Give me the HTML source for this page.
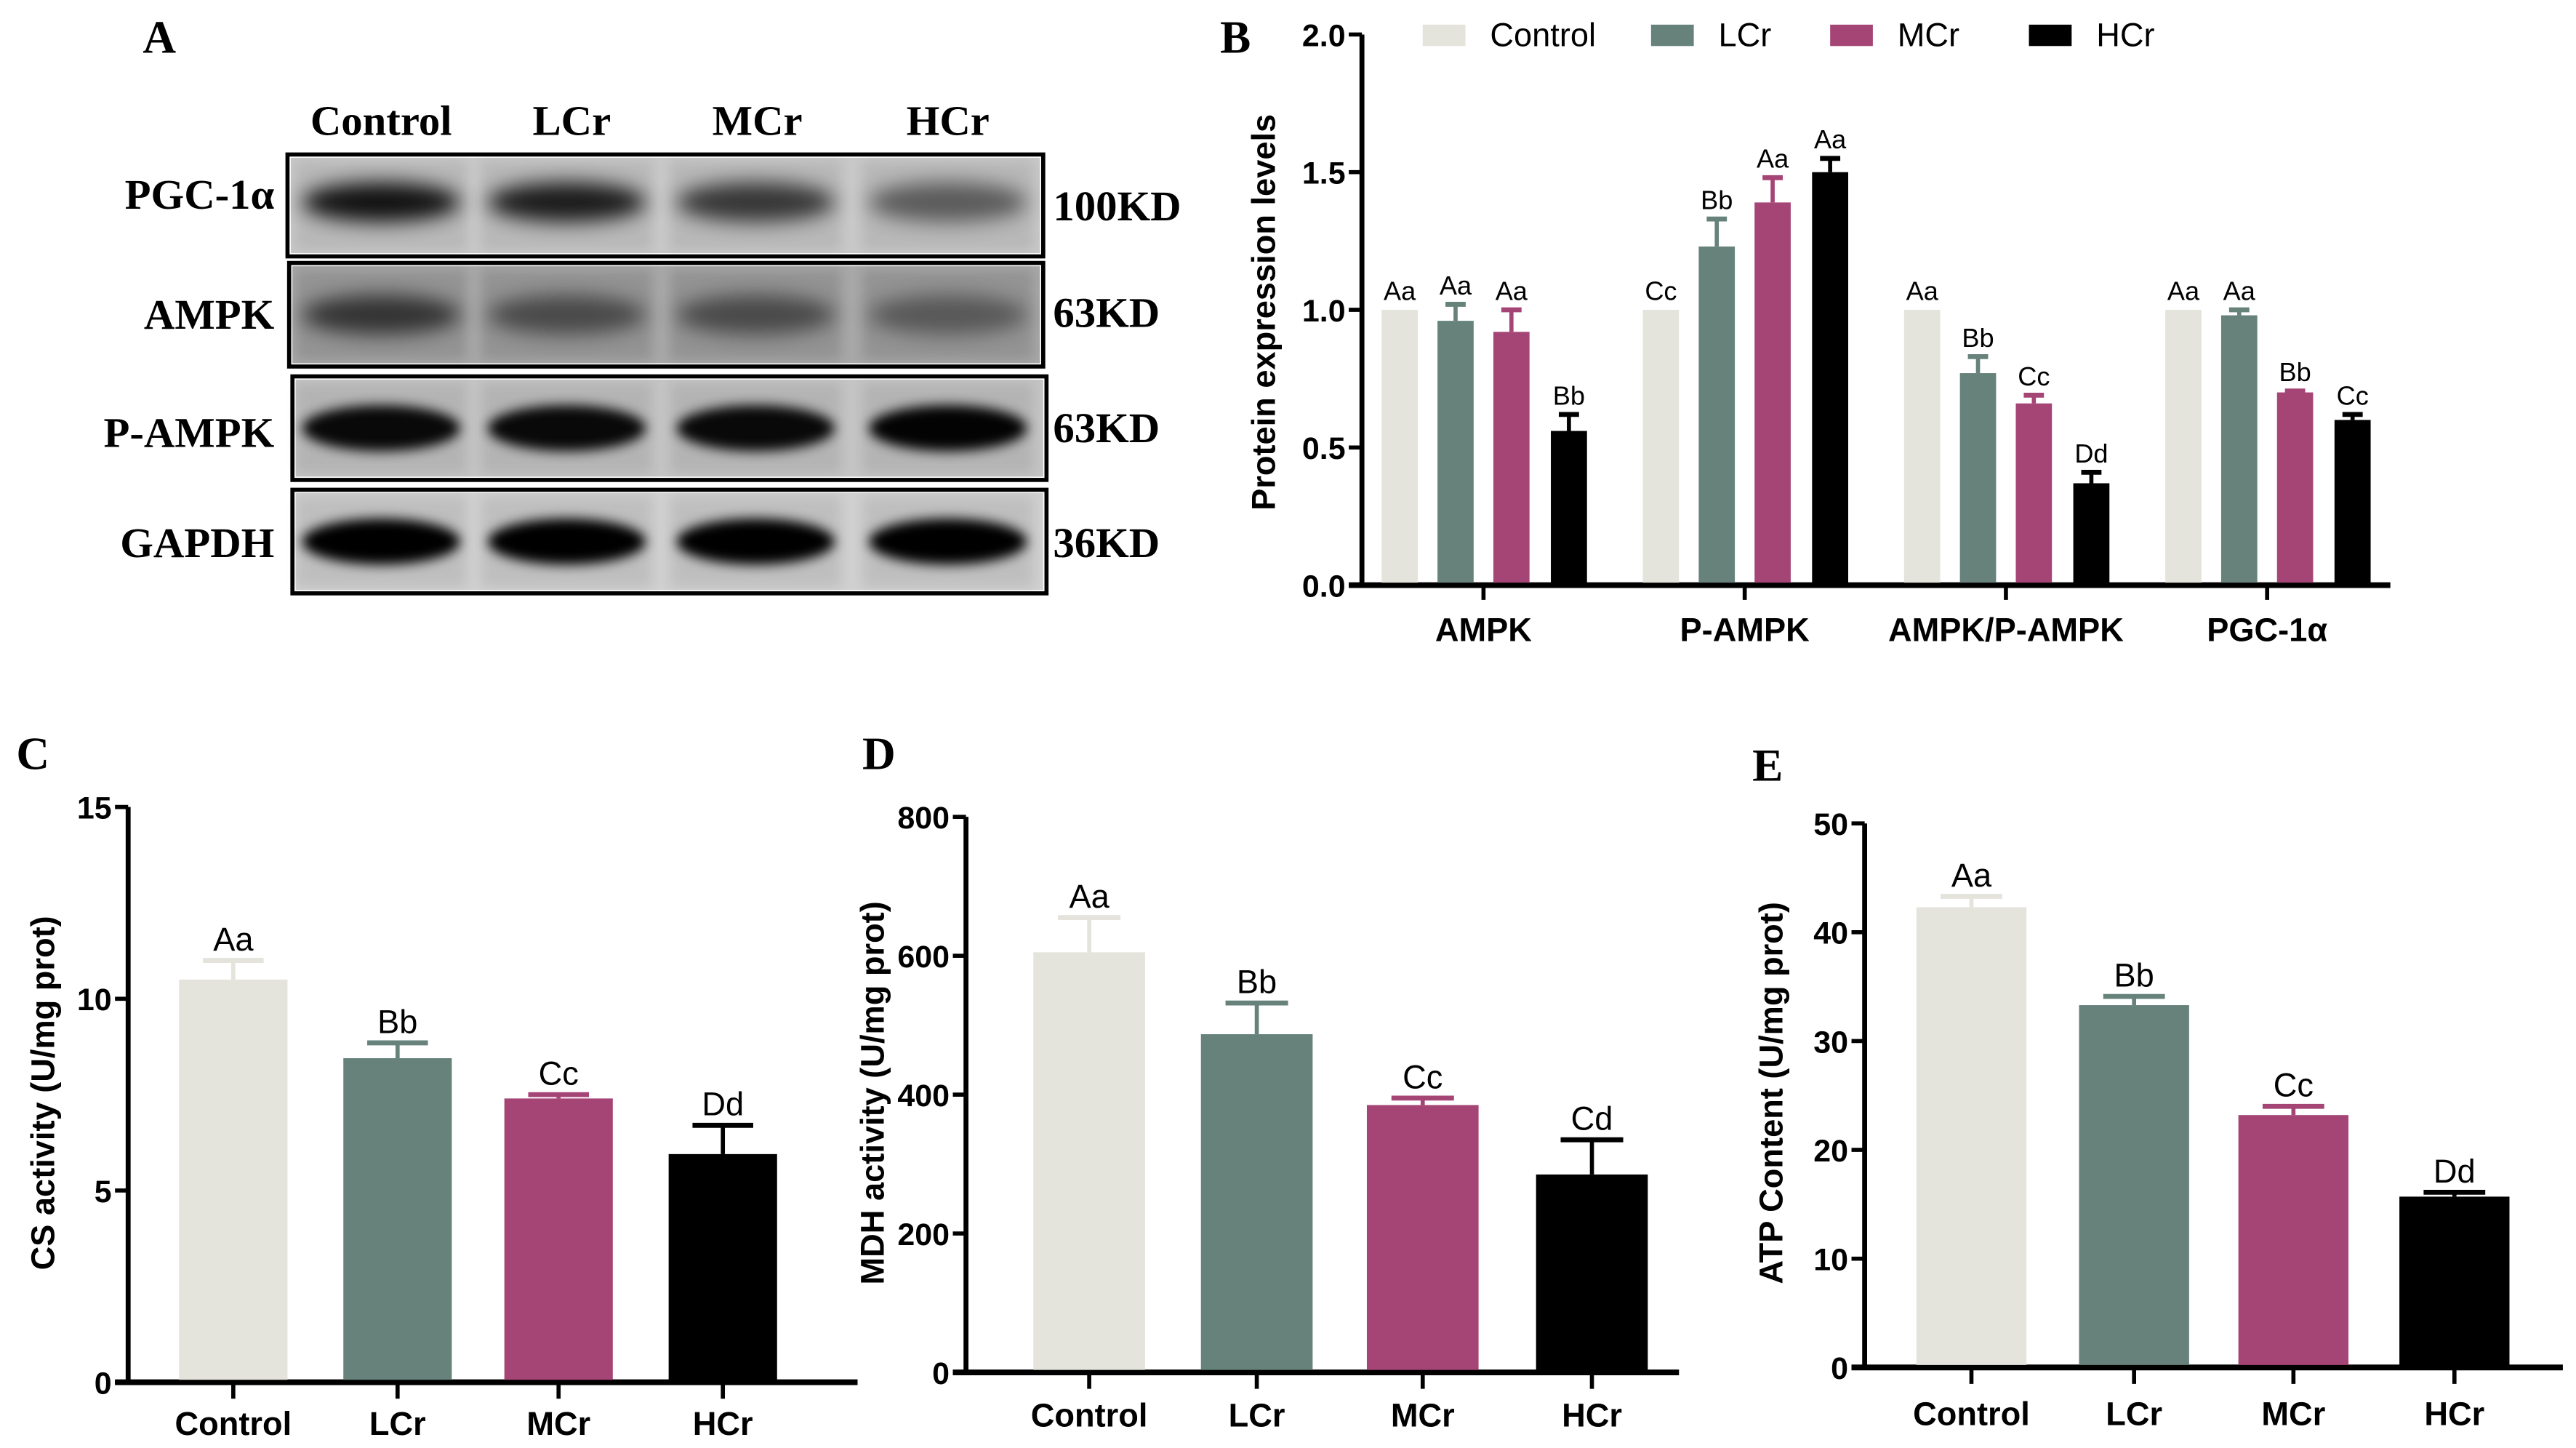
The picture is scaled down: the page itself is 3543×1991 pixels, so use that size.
<!DOCTYPE html>
<html><head><meta charset="utf-8">
<style>
html,body{margin:0;padding:0;background:#fff;}
svg{display:block;}
text{font-family:"Liberation Sans",sans-serif;}
.serif{font-family:"Liberation Serif",serif;font-weight:bold;}
</style></head>
<body>
<svg id="fig" width="3543" height="1991" viewBox="0 0 1568 881" preserveAspectRatio="none" xmlns="http://www.w3.org/2000/svg">
<defs>
<filter id="blur3" x="-20%" y="-60%" width="140%" height="220%"><feGaussianBlur stdDeviation="6"/></filter>
<filter id="blur2" x="-20%" y="-60%" width="140%" height="220%"><feGaussianBlur stdDeviation="3.5"/></filter>
</defs>
<g id="panelA">
<text class="serif" x="97" y="32" font-size="28" text-anchor="middle">A</text>
<text class="serif" x="232" y="82" font-size="26" text-anchor="middle">Control</text>
<text class="serif" x="348" y="82" font-size="26" text-anchor="middle">LCr</text>
<text class="serif" x="461" y="82" font-size="26" text-anchor="middle">MCr</text>
<text class="serif" x="577" y="82" font-size="26" text-anchor="middle">HCr</text>
</g>
<g id="panelB"></g>
<g id="panelC"></g>
<g id="panelD"></g>
<g id="panelE"></g>
</svg>
<script>
// ---- data ----
const groups = ["Control","LCr","MCr","HCr"];
const colors = ["#e4e3dc","#66827a","#a54576","#000000"];
const bCategories = ["AMPK","P-AMPK","AMPK/P-AMPK","PGC-1α"];
const bControl = [1.00,1.00,1.00,1.00];
const bLCr = [0.96,1.23,0.77,0.98];
const bMCr = [0.92,1.39,0.66,0.70];
const bHCr = [0.56,1.50,0.37,0.60];
const bErrControl = [0,0,0,0];
const bErrLCr = [0.06,0.10,0.06,0.02];
const bErrMCr = [0.08,0.09,0.03,0.005];
const bErrHCr = [0.06,0.05,0.04,0.02];
const bSigControl = ["Aa","Cc","Aa","Aa"];
const bSigLCr = ["Aa","Bb","Bb","Aa"];
const bSigMCr = ["Aa","Aa","Cc","Bb"];
const bSigHCr = ["Bb","Aa","Dd","Cc"];
const bTicks = ["0.0","0.5","1.0","1.5","2.0"];
const cValues = [10.5,8.45,7.4,5.95];
const cErr = [0.5,0.4,0.1,0.75];
const cSig = ["Aa","Bb","Cc","Dd"];
const cTicks = ["0","5","10","15"];
const dValues = [605,487,385,285];
const dErr = [50,45,10,50];
const dSig = ["Aa","Bb","Cc","Cd"];
const dTicks = ["0","200","400","600","800"];
const eValues = [42.3,33.3,23.2,15.7];
const eErr = [1.0,0.8,0.8,0.4];
const eSig = ["Aa","Bb","Cc","Dd"];
const eTicks = ["0","10","20","30","40","50"];
const blotRows = ["PGC-1α","AMPK","P-AMPK","GAPDH"];
const blotKD = ["100KD","63KD","63KD","36KD"];
const blotIntensity = [
  [0.9,0.85,0.7,0.5],
  [0.65,0.5,0.5,0.4],
  [0.95,0.95,0.95,0.98],
  [1,1,1,1]
];

const NS = "http://www.w3.org/2000/svg";
function mk(parent, tag, attrs, txt){
  const e = document.createElementNS(NS, tag);
  for (const k in attrs) e.setAttribute(k, attrs[k]);
  if (txt !== undefined) e.textContent = txt;
  parent.appendChild(e);
  return e;
}

// ---- Panel A blots ----
(function(){
  const g = document.getElementById('panelA');
  const boxes = [[175,94,460,62],[176,160,459,63],[178,229,459,63],[178,298,459,63]];
  const labelY = [127,200,272,339];
  const kdY = [134,199,269,339];
  const laneX = [232,345,460,577];
  const bgCol = ['#c8c8c8','#a8a8a8','#c4c4c4','#d0d0d0'];
  blotRows.forEach((name,i)=>{
    const [x,y,w,h] = boxes[i];
    const bg = mk(g,'rect',{x:x+2,y:y+2,width:w-4,height:h-4,fill:bgCol[i]});
    
    
    laneX.forEach((lx,j)=>{
      const v = blotIntensity[i][j];
      const lane = mk(g,'rect',{x:lx-52,y:y+4,width:104,height:h-8,fill:'#000',opacity:i===1?0.12:0.08,filter:'url(#blur2)'});
      
      
      const band = mk(g,'ellipse',{cx:lx,cy:y+h/2+(i===0?-2:0),rx:48,ry:i>=2?14:12,fill:'#000',opacity:v,filter:i>=2?'url(#blur2)':'url(#blur3)'});
      
      
    });
    const frame = mk(g,'rect',{x:x,y:y,width:w,height:h,fill:'none',stroke:'#000','stroke-width':2.5});
    
    
    const lab = mk(g,'text',{class:'serif',x:167,y:labelY[i],'font-size':26,'text-anchor':'end'},name);
    
    
    const kd = mk(g,'text',{class:'serif',x:641,y:kdY[i],'font-size':26},blotKD[i]);
    
    
  });
})();

// ---- generic bar chart ----
function drawAxisY(g, o){
  const yAxis = mk(g,'line',{x1:o.x0,y1:o.y0+1.5,x2:o.x0,y2:o.yTop,stroke:'#000','stroke-width':3});
  
  
  const xAxis = mk(g,'line',{x1:o.x0-8,y1:o.y0,x2:o.x1,y2:o.y0,stroke:'#000','stroke-width':3.5});
  
  
  o.ticks.forEach(t=>{
    const y = o.ys(parseFloat(t));
    const tk = mk(g,'line',{x1:o.x0-8,y1:y,x2:o.x0,y2:y,stroke:'#000','stroke-width':2.5});
    
    
    const tl = mk(g,'text',{x:o.x0-10,y:y+7,'font-size':19,'font-weight':'bold','text-anchor':'end'},t);
    
    
  });
  const tt = mk(g,'text',{x:0,y:0,'font-size':o.titleSize||20,'font-weight':'bold','text-anchor':'middle',transform:`translate(${o.titleX},${o.titleY}) rotate(-90)`},o.title);
  
  
}
function drawBar(g, cx, w, v, err, sig, color, ys, y0, fs){
  const top = ys(v);
  const bar = mk(g,'rect',{x:cx-w/2,y:top,width:w,height:y0-top,fill:color});
  
  
  const et = ys(v+err);
  if (err>0){
    const el = mk(g,'line',{x1:cx,y1:top,x2:cx,y2:et,stroke:color,'stroke-width':2.5});
    
    
    const cap = mk(g,'line',{x1:cx-w*0.28,y1:et,x2:cx+w*0.28,y2:et,stroke:color,'stroke-width':3});
    
    
  }
  const s = mk(g,'text',{x:cx,y:et-6,'font-size':fs,'text-anchor':'middle'},sig);
  
  
}

// ---- Panel B ----
(function(){
  const g = document.getElementById('panelB');
  const x0=829, y0=356, yTop=21, x1=1455;
  const ys = v => y0 - (v/2.0)*(y0-yTop);
  mk(g,'text',{class:'serif',x:752,y:32,'font-size':28,'text-anchor':'middle'},'B');
  drawAxisY(g,{x0,y0,yTop,x1,ys,ticks:bTicks,title:'Protein expression levels',titleX:776,titleY:190,titleSize:20});
  const centers = [903,1062,1221,1380];
  const offs = [-51,-17,17,52];
  const vals=[bControl,bLCr,bMCr,bHCr], errs=[bErrControl,bErrLCr,bErrMCr,bErrHCr], sigs=[bSigControl,bSigLCr,bSigMCr,bSigHCr];
  bCategories.forEach((c,i)=>{
    vals.forEach((arr,k)=>drawBar(g,centers[i]+offs[k],22,arr[i],errs[k][i],sigs[k][i],colors[k],ys,y0-1.5,16));
    const tk = mk(g,'line',{x1:centers[i],y1:y0,x2:centers[i],y2:y0+9,stroke:'#000','stroke-width':2.5});
    
    
    const lb = mk(g,'text',{x:centers[i],y:390,'font-size':20,'font-weight':'bold','text-anchor':'middle'},c);
    
    
  });
  const lx=[866,1005,1114,1235];
  groups.forEach((n,k)=>{
    const sw = mk(g,'rect',{x:lx[k],y:15,width:26,height:13,fill:colors[k]});
    
    
    const t = mk(g,'text',{x:lx[k]+41,y:28,'font-size':20},n);
    
    
  });
})();

// ---- single-series charts ----
function simpleChart(id, letter, lx, ly, o, values, errs, sigs){
  const g = document.getElementById(id);
  mk(g,'text',{class:'serif',x:lx,y:ly,'font-size':28,'text-anchor':'middle'},letter);
  const ys = v => o.y0 - (v/o.max)*(o.y0-o.yTop);
  drawAxisY(g,{x0:o.x0,y0:o.y0,yTop:o.yTop,x1:o.x1,ys,ticks:o.ticks,title:o.title,titleX:o.titleX,titleY:o.titleY,titleSize:20});
  groups.forEach((n,i)=>{
    const cx = o.centers[i];
    drawBar(g,cx,o.bw,values[i],errs[i],sigs[i],colors[i],ys,o.y0-1.5,20);
    const tk = mk(g,'line',{x1:cx,y1:o.y0,x2:cx,y2:o.y0+10,stroke:'#000','stroke-width':2.5});
    
    
    const lb = mk(g,'text',{x:cx,y:o.labelY,'font-size':20,'font-weight':'bold','text-anchor':'middle'},n);
    
    
  });
}
simpleChart('panelC','C',20,468,{x0:78,y0:841,yTop:491,x1:522,max:15,ticks:cTicks,title:'CS activity (U/mg prot)',titleX:33,titleY:665,centers:[142,242,340,440],bw:66,labelY:873},cValues,cErr,cSig);
simpleChart('panelD','D',535,468,{x0:588,y0:835,yTop:497,x1:1022,max:800,ticks:dTicks,title:'MDH activity (U/mg prot)',titleX:538,titleY:665,centers:[663,765,866,969],bw:68,labelY:868},dValues,dErr,dSig);
simpleChart('panelE','E',1076,475,{x0:1135,y0:832,yTop:501,x1:1560,max:50,ticks:eTicks,title:'ATP Content (U/mg prot)',titleX:1085,titleY:665,centers:[1200,1299,1396,1494],bw:67,labelY:867},eValues,eErr,eSig);
</script>
</body></html>
